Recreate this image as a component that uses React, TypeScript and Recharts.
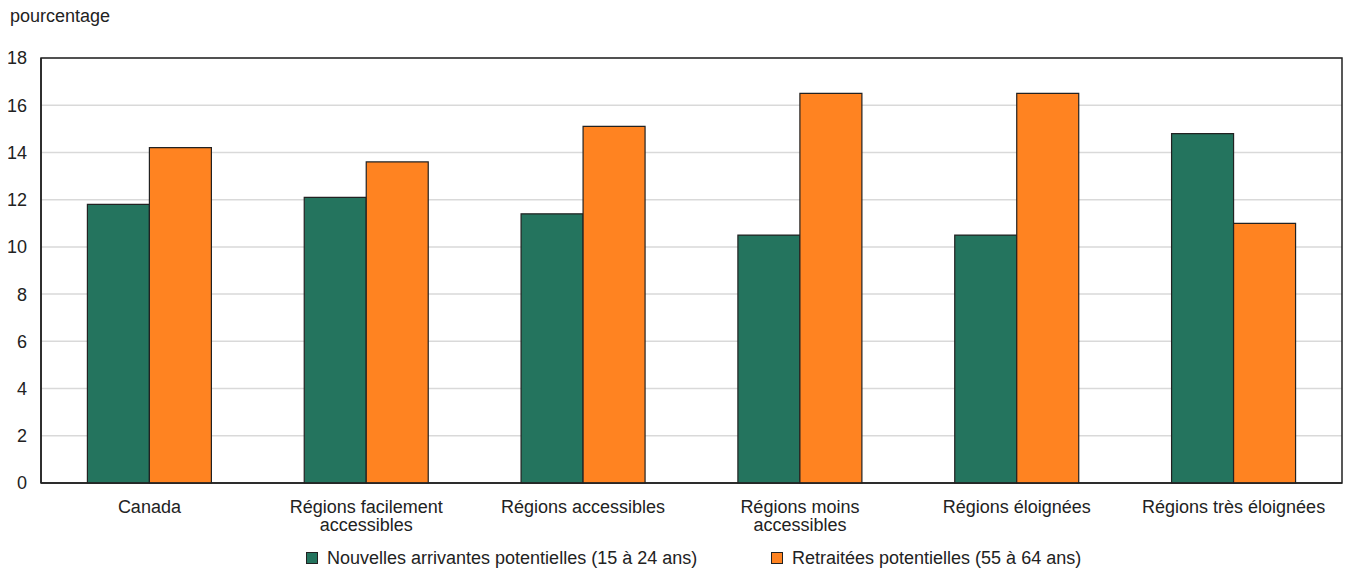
import React from "react";
import {
  BarChart,
  Bar,
  XAxis,
  YAxis,
  CartesianGrid,
  ReferenceArea,
} from "recharts";

const categories = [
  "Canada",
  "Régions facilement\naccessibles",
  "Régions accessibles",
  "Régions moins\naccessibles",
  "Régions éloignées",
  "Régions très éloignées",
];
const newcomers = [11.8, 12.1, 11.4, 10.5, 10.5, 14.8];
const retirees = [14.2, 13.6, 15.1, 16.5, 16.5, 11.0];
const yTicks = [0, 2, 4, 6, 8, 10, 12, 14, 16, 18];

const seriesNames = {
  newcomers: "Nouvelles arrivantes potentielles (15 à 24 ans)",
  retirees: "Retraitées potentielles (55 à 64 ans)",
};
const GREEN = "#24745E";
const ORANGE = "#FF8321";
const FONT = "'Liberation Sans', Arial, sans-serif";

const data = categories.map((c, i) => ({
  name: c,
  newcomers: newcomers[i],
  retirees: retirees[i],
}));

const CategoryTick = (props: any) => {
  const { x, y, payload } = props;
  const lines = String(payload.value).split("\n");
  return (
    <text x={x} y={y} textAnchor="middle" fill="#222" fontSize={18} fontFamily={FONT}>
      {lines.map((l: string, i: number) => (
        <tspan key={i} x={x} dy={i === 0 ? 30 : 18}>
          {l}
        </tspan>
      ))}
    </text>
  );
};

const legendItems = [
  { color: GREEN, label: seriesNames.newcomers, left: 298 },
  { color: ORANGE, label: seriesNames.retirees, left: 763 },
];

const App: React.FC = () => {
  return (
    <div style={{ width: 1343, height: 563, position: "relative" }}>
      <div
        style={{
          position: "absolute",
          left: 2,
          top: -2,
          fontFamily: FONT,
          fontSize: 18,
          color: "#222",
        }}
      >
        pourcentage
      </div>
      <BarChart
        width={1343}
        height={563}
        data={data}
        margin={{ top: 50, right: 9, bottom: 0, left: 0 }}
        barCategoryGap="21.4%"
        barGap={0}
      >
        <CartesianGrid vertical={false} stroke="#d9d9d9" strokeWidth={1.5} />
        <XAxis
          dataKey="name"
          interval={0}
          tick={<CategoryTick />}
          tickLine={false}
          axisLine={{ stroke: "#222", strokeWidth: 1.5 }}
          height={88}
          tickSize={0}
          tickMargin={0}
        />
        <YAxis
          domain={[0, 18]}
          ticks={yTicks}
          interval={0}
          tickLine={false}
          axisLine={{ stroke: "#222", strokeWidth: 1.5 }}
          tickSize={0}
          tickMargin={14}
          width={33}
          tick={{ fill: "#222", fontSize: 18, fontFamily: FONT }}
        />
        <Bar
          dataKey="newcomers"
          name={seriesNames.newcomers}
          fill={GREEN}
          stroke="#222"
          strokeWidth={1.2}
          isAnimationActive={false}
        />
        <Bar
          dataKey="retirees"
          name={seriesNames.retirees}
          fill={ORANGE}
          stroke="#222"
          strokeWidth={1.2}
          isAnimationActive={false}
        />
        <ReferenceArea
          y1={0}
          y2={18}
          fill="none"
          stroke="#222"
          strokeWidth={1.5}
          fillOpacity={0}
        />
      </BarChart>
      {legendItems.map((it) => (
        <div
          key={it.label}
          style={{
            position: "absolute",
            left: it.left,
            top: 540,
            height: 20,
            display: "flex",
            alignItems: "center",
            fontFamily: FONT,
            fontSize: 18,
            color: "#222",
            whiteSpace: "nowrap",
          }}
        >
          <span
            style={{
              display: "inline-block",
              width: 10,
              height: 10,
              background: it.color,
              border: "1px solid #222",
              marginRight: 9,
            }}
          />
          {it.label}
        </div>
      ))}
    </div>
  );
};

export default App;
